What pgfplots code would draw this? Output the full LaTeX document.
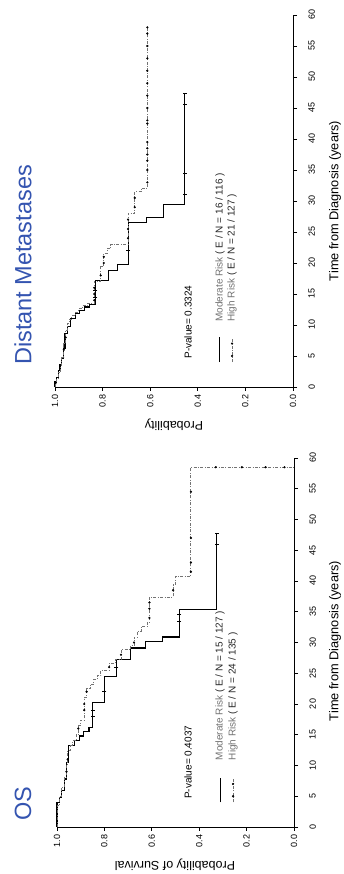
\documentclass[border=0pt]{standalone}
\usepackage{pgfplots}
\pgfplotsset{compat=1.18}
\usepackage{fontspec}
\setmainfont{Liberation Sans}
\definecolor{titleblue}{RGB}{52,84,176}
\begin{document}
\begin{tikzpicture}
\path[use as bounding box] (0,0) rectangle (343pt,874pt);
\pgfplotsset{
  kmaxis/.style={
    anchor=origin,
    x dir=reverse,
    xmin=0,xmax=1,ymin=0,ymax=60,
    axis line style={draw=none},
    xtick pos=left, ytick pos=right,
    xticklabel pos=left, yticklabel pos=right,
    tick align=outside,
    major tick length=4pt,
    tick style={line width=0.8pt, black},
    ytick={0,5,...,60},
    xtick={0,0.2,0.4,0.6,0.8,1},
    /pgf/number format/assume math mode=true,
    yticklabel style={rotate=90, anchor=north, font=\fontsize{9}{10}\selectfont},
    xticklabel style={rotate=90, anchor=east, font=\fontsize{9}{10}\selectfont,
      /pgf/number format/fixed, /pgf/number format/fixed zerofill, /pgf/number format/precision=1},
    yticklabel shift=8pt,
    clip=false,
  },
  modline/.style={black, line width=1.1pt, mark=none},
  highline/.style={black!55, line width=0.9pt, dash pattern=on 3pt off 1.5pt on 0.8pt off 1.5pt, mark=none},
  highcens/.style={only marks, mark=*, mark size=0.9pt, black},
  modcens/.style={only marks, mark=-, mark size=2pt, black, mark options={line width=0.8pt}},
}
% ---------------- Distant Metastases ----------------
\begin{axis}[kmaxis, at={(293pt,487pt)}, x=238pt, y=6.2pt]
\draw[line width=0.9pt] (axis cs:1,0) -- (axis cs:0,0) -- (axis cs:0,60);
\addplot[modline] coordinates {(1.0,0) (1.0,0.8) (0.993,0.8) (0.993,1.6) (0.986,1.6) (0.986,2.6) (0.979,2.6) (0.979,3.6) (0.972,3.6) (0.972,4.6) (0.965,4.6) (0.965,6.2) (0.958,6.2) (0.958,8.6) (0.948,8.6) (0.948,9.8) (0.935,9.8) (0.935,11.0) (0.915,11.0) (0.915,11.8) (0.897,11.8) (0.897,12.4) (0.877,12.4) (0.877,12.9) (0.855,12.9) (0.855,13.3) (0.83,13.3) (0.83,17.2) (0.775,17.2) (0.775,18.8) (0.738,18.8) (0.738,19.8) (0.693,19.8) (0.693,26.5) (0.615,26.5) (0.615,27.3) (0.545,27.3) (0.545,29.5) (0.455,29.5) (0.455,47.4)};
\addplot[highline] coordinates {(1.0,0) (1.0,0.5) (0.992,0.5) (0.992,1.3) (0.985,1.3) (0.985,2.4) (0.978,2.4) (0.978,3.4) (0.972,3.4) (0.972,4.8) (0.963,4.8) (0.963,7) (0.955,7) (0.955,9.2) (0.948,9.2) (0.948,10.3) (0.94,10.3) (0.94,10.9) (0.93,10.9) (0.93,11.5) (0.915,11.5) (0.915,12.1) (0.9,12.1) (0.9,12.6) (0.885,12.6) (0.885,13.1) (0.862,13.1) (0.862,13.5) (0.835,13.5) (0.835,17.0) (0.808,17.0) (0.808,19.4) (0.795,19.4) (0.795,21.6) (0.78,21.6) (0.78,22.4) (0.765,22.4) (0.765,23.0) (0.693,23.0) (0.693,28.0) (0.665,28.0) (0.665,31.5) (0.638,31.5) (0.638,32.1) (0.612,32.1) (0.612,58.0)};
\addplot[highcens] coordinates {(0.612,33) (0.612,35) (0.612,36.5) (0.612,37.5) (0.612,38.5) (0.612,39.5) (0.612,42.5) (0.612,43) (0.612,45) (0.612,47) (0.612,49) (0.612,51) (0.612,53) (0.612,55) (0.612,57) (0.612,58) (0.665,29) (0.665,30.5) (0.693,24) (0.693,25.5) (0.693,27) (0.795,20) (0.795,21) (0.808,18) (0.835,14) (0.835,15) (0.835,16) (0.963,6) (0.955,8)};
\addplot[modcens] coordinates {(0.455,31) (0.455,34.5) (0.455,45.5) (0.455,47.4) (0.693,22) (0.83,14.5) (0.83,15.5)};
% legend samples
\addplot[modline] coordinates {(0.307,4) (0.307,8)};
\addplot[highline] coordinates {(0.256,4) (0.256,8)};
\addplot[highcens] coordinates {(0.256,5) (0.256,7)};
\node[rotate=90, anchor=west, font=\fontsize{10}{12}\selectfont] at (axis cs:0.441,4) {P-value= 0.3324};
\node[rotate=90, anchor=west, font=\fontsize{10}{12}\selectfont, text=black!55] at (axis cs:0.307,10) {Moderate Risk \textcolor{black!85}{( E / N = 16 / 116 )}};
\node[rotate=90, anchor=west, font=\fontsize{10}{12}\selectfont, text=black!55] at (axis cs:0.256,10) {High Risk \textcolor{black!85}{( E / N = 21 / 127 )}};
\end{axis}
% ---------------- OS ----------------
\begin{axis}[kmaxis, at={(294pt,47pt)}, x=237pt, y=6.15pt]
\draw[line width=0.9pt] (axis cs:1,0) -- (axis cs:0,0) -- (axis cs:0,60);
\addplot[modline] coordinates {(1.0,0) (1.0,4.0) (0.99,4.0) (0.99,4.8) (0.98,4.8) (0.98,6.0) (0.97,6.0) (0.97,7.8) (0.96,7.8) (0.96,10.5) (0.95,10.5) (0.95,13.2) (0.925,13.2) (0.925,14.0) (0.905,14.0) (0.905,14.8) (0.89,14.8) (0.89,15.6) (0.865,15.6) (0.865,16.2) (0.85,16.2) (0.85,20.2) (0.80,20.2) (0.80,24.5) (0.75,24.5) (0.75,27.2) (0.69,27.2) (0.69,29.1) (0.625,29.1) (0.625,30.1) (0.555,30.1) (0.555,30.9) (0.485,30.9) (0.485,35.3) (0.326,35.3) (0.326,47.8)};
\addplot[highline] coordinates {(1.0,0) (1.0,3.5) (0.99,3.5) (0.99,5.0) (0.98,5.0) (0.98,6.5) (0.97,6.5) (0.97,8.0) (0.96,8.0) (0.96,10.0) (0.955,10.0) (0.955,12.5) (0.945,12.5) (0.945,13.3) (0.935,13.3) (0.935,14.0) (0.92,14.0) (0.92,15.0) (0.91,15.0) (0.91,16.5) (0.90,16.5) (0.90,17.4) (0.885,17.4) (0.885,21.0) (0.875,21.0) (0.875,22.5) (0.86,22.5) (0.86,23.2) (0.845,23.2) (0.845,24.0) (0.83,24.0) (0.83,24.6) (0.815,24.6) (0.815,25.5) (0.78,25.5) (0.78,26.6) (0.755,26.6) (0.755,27.2) (0.73,27.2) (0.73,28.8) (0.69,28.8) (0.69,29.5) (0.675,29.5) (0.675,30.9) (0.662,30.9) (0.662,31.8) (0.645,31.8) (0.645,32.6) (0.62,32.6) (0.62,33.2) (0.61,33.2) (0.61,37.4) (0.51,37.4) (0.51,39.4) (0.50,39.4) (0.50,40.8) (0.435,40.8) (0.435,58.5) (0.0,58.5)};
\addplot[highcens] coordinates {(0.435,41.5) (0.435,43) (0.435,47) (0.435,54.5) (0.51,38.5) (0.61,34) (0.61,35.5) (0.61,36.5) (0.675,30) (0.73,28) (0.78,26) (0.875,22) (0.885,19) (0.885,20) (0.91,16) (0.955,11) (0.96,9) (0.33,58.5) (0.22,58.5) (0.12,58.5) (0.04,58.5)};
\addplot[modcens] coordinates {(0.326,46) (0.326,47.8) (0.485,33.5) (0.485,34.5) (0.75,26) (0.80,22) (0.85,18) (0.85,19)};
% legend samples
\addplot[modline] coordinates {(0.312,4) (0.312,8)};
\addplot[highline] coordinates {(0.257,4) (0.257,8)};
\addplot[highcens] coordinates {(0.257,5) (0.257,7)};
\node[rotate=90, anchor=west, font=\fontsize{10}{12}\selectfont] at (axis cs:0.447,4) {P-value= 0.4037};
\node[rotate=90, anchor=west, font=\fontsize{10}{12}\selectfont, text=black!55] at (axis cs:0.312,10.3) {Moderate Risk \textcolor{black!85}{( E / N = 15 / 127 )}};
\node[rotate=90, anchor=west, font=\fontsize{10}{12}\selectfont, text=black!55] at (axis cs:0.257,10.3) {High Risk \textcolor{black!85}{( E / N = 24 / 135 )}};
\end{axis}
% ---------------- labels and titles ----------------
\node[rotate=90, font=\fontsize{12.8}{14}\selectfont] at (335pt,673pt) {Time from Diagnosis (years)};
\node[rotate=90, font=\fontsize{12.8}{14}\selectfont] at (335pt,233pt) {Time from Diagnosis (years)};
\node[rotate=180, font=\fontsize{12.5}{14}\selectfont] at (174pt,449pt) {Probability};
\node[rotate=180, font=\fontsize{12.5}{14}\selectfont] at (175pt,9pt) {Probability of Survival};
\node[rotate=90, text=titleblue, font=\fontsize{23.5}{26}\selectfont] at (23pt,609pt) {Distant Metastases};
\node[rotate=90, text=titleblue, font=\fontsize{23.5}{26}\selectfont] at (23pt,70pt) {OS};
\end{tikzpicture}
\end{document}
